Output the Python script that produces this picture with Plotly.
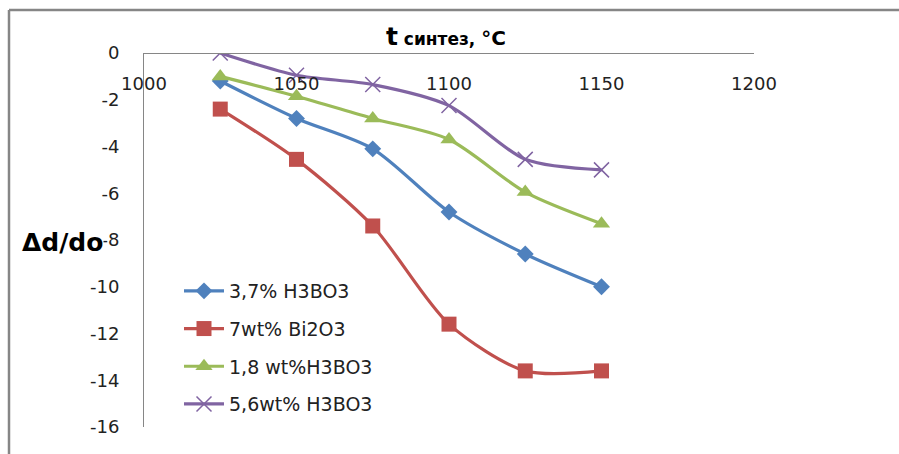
import plotly.graph_objects as go

x_temp = [1025, 1050, 1075, 1100, 1125, 1150]
names = ["3,7% H3BO3", "7wt% Bi2O3", "1,8 wt%H3BO3", "5,6wt% H3BO3"]
s_blue = [-1.2, -2.8, -4.1, -6.8, -8.6, -10.0]
s_red = [-2.4, -4.55, -7.4, -11.6, -13.6, -13.6]
s_green = [-1.0, -1.85, -2.8, -3.7, -5.95, -7.3]
s_purple = [0.0, -0.95, -1.35, -2.25, -4.55, -5.0]
x_ticks = [1000, 1050, 1100, 1150, 1200]
y_ticks = [0, -2, -4, -6, -8, -10, -12, -14, -16]

W, H = 899, 454
L, R, T, B = 144, 754, 53, 427
def px(x):
    return (x - L) / (R - L)
def py(y):
    return (B - y) / (B - T)

FONT = "DejaVu Sans"
colors = ["#4F81BD", "#C0504D", "#9BBB59", "#8064A2"]
symbols = ["diamond", "square", "triangle-up", "x-thin-open"]
sizes = [13, 15, 15, 15]
series = [s_blue, s_red, s_green, s_purple]

fig = go.Figure()
for i, (nm, ys) in enumerate(zip(names, series)):
    mk = dict(symbol=symbols[i], size=sizes[i], color=colors[i])
    if symbols[i] == "x-thin-open":
        mk["line"] = dict(color=colors[i], width=1.5)
    fig.add_trace(go.Scatter(
        x=x_temp, y=ys, name=nm, mode="lines+markers",
        line=dict(color=colors[i], width=3.2, shape="spline", smoothing=0.8),
        marker=mk, legendgroup=str(i),
    ))

fig.update_layout(
    width=W, height=H,
    margin=dict(l=L, r=W - R, t=T, b=H - B),
    paper_bgcolor="white", plot_bgcolor="white",
    font=dict(family=FONT, size=16, color="#000000"),
    showlegend=True,
    legend=dict(x=px(179), y=py(272), xanchor="left", yanchor="top",
                bgcolor="rgba(0,0,0,0)", font=dict(size=19, family=FONT, color="#222"),
                tracegroupgap=10, itemwidth=40),
    xaxis=dict(range=[1000, 1200], tickvals=x_ticks, ticktext=[str(v) for v in x_ticks],
               anchor="free", position=1, side="bottom",
               showline=True, linecolor="#868686", linewidth=1,
               showgrid=False, zeroline=False, ticks="",
               ticklabelstandoff=14,
               tickfont=dict(size=18, family=FONT, color="#222")),
    yaxis=dict(range=[-16, 0], tickvals=y_ticks, ticktext=[str(v) for v in y_ticks],
               showline=True, linecolor="#868686", linewidth=1,
               showgrid=False, zeroline=False, ticks="",
               ticklabelstandoff=20,
               tickfont=dict(size=18, family=FONT, color="#222")),
)

# outer frame (top and left visible)
fig.add_shape(type="line", xref="paper", yref="paper", x0=px(9), x1=px(905), y0=py(10), y1=py(10),
              line=dict(color="#868686", width=2.5))
fig.add_shape(type="line", xref="paper", yref="paper", x0=px(9), x1=px(9), y0=py(10), y1=py(460),
              line=dict(color="#868686", width=2.5))

# axis title (x) at top
fig.add_annotation(xref="paper", yref="paper", x=px(446), y=py(36), yanchor="middle", showarrow=False,
                   text="<b><span style='font-size:25px'>t</span> синтез, <span style='font-size:20px'>°C</span></b>",
                   font=dict(size=17, family=FONT, color="#000"))
# y title covering the "-" of -8
fig.add_annotation(xref="paper", yref="paper", x=px(104), y=py(242), xanchor="right", showarrow=False,
                   text="<b>Δd/do</b>", bgcolor="white", borderpad=0,
                   font=dict(size=25, family=FONT, color="#000"))
# cut-off document text at top
fig.add_annotation(xref="paper", yref="paper", x=px(38), y=py(2), xanchor="left", yanchor="bottom",
                   showarrow=False, text="температури",
                   font=dict(size=30, family="Liberation Serif", color="#000"))

fig.write_html("out.html")
